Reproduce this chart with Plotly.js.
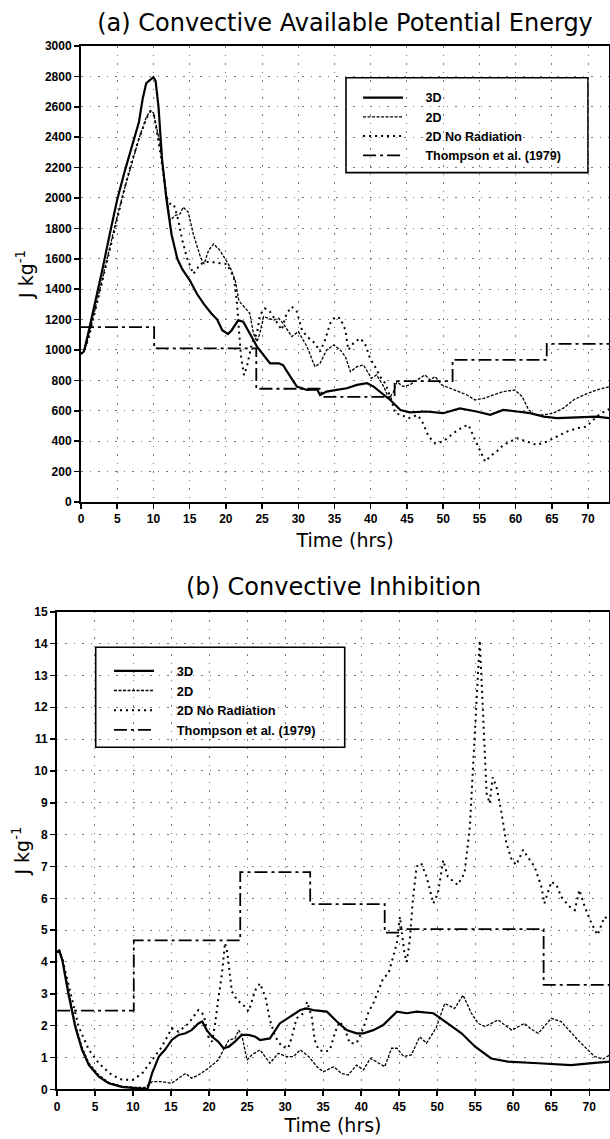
<!DOCTYPE html>
<html>
<head>
<meta charset="utf-8">
<script src="https://cdn.plot.ly/plotly-3.0.1.min.js"></script>
<style>html,body{margin:0;padding:0;background:#fff;}#chart{width:610px;height:1139px;}</style>
</head>
<body>
<div id="chart"></div>
<script>
// ---------- Data: (a) CAPE ----------
const seriesNames = ["3D", "2D", "2D No Radiation", "Thompson et al. (1979)"];
const capeT3D = [0,0.4,1,2,3,4,5,6,7,8,8.5,9,9.5,10,10.3,10.7,11.2,11.8,12.5,13.3,14,15,16,17,18,18.8,19.5,20.3,20.8,21.7,22.4,23.3,24.3,25.2,26.1,27.3,27.9,28.9,29.8,31.2,32.6,33,33.9,35.3,36.7,38.1,39.5,40.4,41.3,42.7,44.1,45.4,47.7,50,52.3,54.6,56.5,58.3,60.2,62,63.9,65.7,68.5,71.2,73];
const cape3D = [975,990,1110,1320,1540,1770,1990,2170,2340,2500,2650,2755,2775,2795,2770,2600,2250,1990,1760,1600,1530,1460,1370,1300,1240,1200,1130,1105,1130,1195,1186,1110,1022,967,912,912,900,825,759,737,741,704,726,737,748,770,781,759,726,671,605,590,595,584,615,595,573,606,595,584,562,551,557,562,551];
const capeT2D = [0,0.4,1,2,3,4,5,6,7,8,8.5,9,9.6,10,10.5,10.9,11.6,12.3,13,13.7,14.1,14.8,15.5,16.5,17,17.6,18.3,19.2,20.6,21.3,21.8,22.4,23.3,23.8,24.3,24.7,25.2,25.9,26.6,27.3,27.9,29.1,30,31.2,32.3,33,33.9,34.9,35.8,36.5,37.2,38.1,39,40.1,40.8,41.8,42.5,43.1,43.6,44.5,45.4,46.4,47.5,48.2,48.9,49.8,51,52.3,53.3,54.4,55.6,56.9,58.3,59.9,60.9,61.8,62.7,63.9,65.2,66.6,68,69.4,71.2,73];
const cape2D = [975,990,1080,1280,1480,1690,1880,2060,2230,2390,2460,2530,2575,2560,2450,2358,2094,1852,1885,1896,1940,1907,1764,1610,1566,1654,1698,1654,1544,1456,1324,1290,1241,1110,1055,1110,1219,1208,1197,1208,1175,1088,1121,1022,890,912,1000,1033,1000,956,857,890,901,814,836,759,682,720,790,760,770,803,836,803,825,770,748,726,704,671,682,704,726,737,693,606,573,573,584,617,671,704,737,759];
const capeTNoRad = [0,0.4,1,2,3,4,5,6,7,8,9,9.6,10.1,10.5,10.9,11.4,11.8,12.3,12.8,13.3,14,14.6,15.5,16.5,17.5,18.3,19.2,20.1,21.1,21.5,21.8,22.1,22.5,22.9,23.6,24.3,24.7,25.4,26.1,26.8,27.7,28.4,29.1,29.8,30.5,31.2,32.3,33,33.7,34.4,35.1,35.8,36.5,36.9,37.6,38.5,39.2,39.9,40.6,41.3,42,42.7,43.4,44.3,45.2,46.4,47,48,48.9,50,51.4,52.8,53.5,54.2,54.9,55.8,56.5,57.5,58.3,59.3,60.2,61.6,62.9,64.3,65.7,67.1,68.5,69.8,71.2,72.6,73];
const capeNoRad = [975,990,1070,1270,1470,1680,1880,2060,2240,2390,2520,2570,2540,2430,2314,2150,2006,1962,1960,1880,1720,1610,1500,1566,1580,1577,1570,1566,1478,1330,1132,956,835,890,1044,1110,1230,1274,1252,1197,1132,1241,1285,1252,1132,1088,1044,989,1066,1175,1219,1208,1132,1000,1044,1077,1044,945,890,825,781,693,583,572,550,572,540,430,386,397,452,496,507,430,354,265,300,337,375,400,419,397,375,397,430,463,485,496,562,606,612];
const capeTThomp = [0,10.1,24.2,33.2,43.3,51.3,64.3,73];
const capeThomp = [1150,1010,745,692,795,935,1040,1040];

// ---------- Data: (b) CIN ----------
const cinT3D = [0,0.3,0.7,1.5,2.4,3.3,4.2,5.5,6.8,8.5,10.3,11.6,11.9,12.5,13.4,14.2,15.1,16,16.9,17.7,18.6,19.1,19.7,20.4,21.2,21.9,22.6,23.4,24.3,25.2,26.1,26.7,28,29.3,30.7,32,32.8,33.7,35.5,36.8,38.1,39.4,40.3,41.6,42.9,44.7,46,47.3,49.5,50.8,51.7,53.2,55,57.1,59.3,63.3,67.6,71.1,72.7];
const cin3D = [4.3,4.35,4.06,3.0,1.97,1.24,0.76,0.4,0.19,0.08,0.04,0,0,0.5,1.03,1.24,1.55,1.71,1.76,1.86,2.07,2.13,1.86,1.65,1.5,1.29,1.34,1.5,1.71,1.71,1.65,1.55,1.6,2.07,2.28,2.49,2.54,2.49,2.44,2.13,1.86,1.76,1.76,1.86,2.02,2.44,2.39,2.44,2.39,2.18,2.02,1.76,1.34,0.97,0.87,0.82,0.76,0.84,0.87];
const cinT2D = [0,0.3,0.7,1.5,2.4,3.3,4.2,5.5,6.8,8.5,10.3,11.6,12.5,13.8,15.1,16,16.9,17.7,18.6,19.9,21.2,21.9,22.6,23.4,23.9,24.3,25,25.6,26.7,28,29.1,30.2,31.1,32,33.1,34.2,35,36.4,37.4,38.3,39.4,40.3,41.2,42,43.1,44,44.7,45.6,46.6,47.7,48.6,49.9,51,52.3,53.4,54.5,55.4,56.3,58,59.8,61.5,62.3,63.3,65,66.3,68.5,70.7,71.8,72.7];
const cin2D = [4.3,4.4,4.12,3.1,2.05,1.32,0.82,0.45,0.22,0.1,0.06,0.06,0.24,0.24,0.19,0.35,0.5,0.35,0.45,0.66,0.92,1.24,1.55,1.6,1.86,1.71,0.92,1.08,1.24,0.82,1.13,1.03,1.03,1.24,1.03,0.71,0.55,0.71,0.5,0.45,0.76,0.61,0.97,0.87,0.71,1.29,1.29,1.03,1.08,1.65,1.45,1.95,2.7,2.54,2.96,2.39,2.07,1.97,2.18,1.86,2.07,1.9,1.76,2.23,2.13,1.55,1.03,0.95,1.08];
const cinTNoRad = [0,0.3,0.7,2,2.85,4.2,5.5,7.2,8.5,9.9,11.2,12.5,13.8,15.1,16,17.3,18.6,19.3,19.9,20.4,20.8,21.2,21.7,22.1,22.4,23,23.7,24.5,25.2,26.1,26.7,27.4,28,28.7,29.6,30.4,30.9,31.5,32.4,32.9,33.5,33.9,34.4,35.3,35.9,36.6,37.2,37.9,38.5,39.4,40.3,41,41.6,42.3,42.9,43.6,44.2,44.7,45.1,45.7,46,46.4,46.8,47.3,47.9,48.6,49.5,50.1,50.8,51.4,52.7,53.6,54.3,54.7,55.2,55.6,56,56.5,56.9,57.3,57.8,58.4,59.1,59.8,60.4,61.3,61.9,62.8,63.7,64.1,65,65.7,66.3,67.4,68.1,68.7,69.4,70.3,71.1,72,72.7];
const cinNoRad = [4.3,4.35,4.1,2.8,1.97,1.24,0.82,0.45,0.31,0.29,0.5,0.92,1.34,1.92,1.81,2.07,2.49,2.34,1.65,1.5,2.07,2.8,3.64,4.6,4.3,3.07,2.8,2.65,2.45,3.12,3.33,2.91,2.18,1.65,1.34,1.29,1.65,2.23,2.39,2.75,2.28,1.55,1.24,1.18,1.24,1.81,2.13,1.86,1.45,1.45,1.92,2.44,2.7,3.12,3.49,3.64,4.17,4.59,5.42,4.27,4.0,4.69,5.95,7.0,7.1,6.68,5.84,6.16,7.2,6.68,6.42,6.79,8.25,10.1,12.5,14.1,12.0,9.3,8.98,9.8,9.5,8.77,7.73,7.2,7.05,7.52,7.3,7.0,6.37,5.84,6.52,6.42,6.05,5.74,5.63,6.26,5.74,5.21,4.85,5.42,5.32];
const cinTThomp = [0,10.1,24.1,33.3,43.1,45,64,72.6];
const cinThomp = [2.47,4.68,6.82,5.82,4.92,5.03,3.28,3.28];

const titleA = "(a) Convective Available Potential Energy";
const titleB = "(b) Convective Inhibition";
const xTitle = "Time (hrs)";
const yTitle = "J kg<sup>-1</sup>";

// ---------- Styles ----------
const styles = [
  {color: "#000", width: 2.2, dash: "solid"},
  {color: "#000", width: 1.3, dash: "3px,1.5px"},
  {color: "#000", width: 2, dash: "2px,4px"},
  {color: "#000", width: 1.8, dash: "13px,4px,3px,4px"}
];
const legendPad = "\u00a0\u00a0\u00a0\u00a0\u00a0";

function mk(x, y, i, xa, ya, lg, shape) {
  return {
    x: x, y: y, type: "scatter", mode: "lines", name: legendPad + seriesNames[i],
    xaxis: xa, yaxis: ya, legend: lg, hoverinfo: "skip",
    line: Object.assign({shape: shape || "linear"}, styles[i])
  };
}

const traces = [
  mk(capeT3D, cape3D, 0, "x", "y", "legend"),
  mk(capeT2D, cape2D, 1, "x", "y", "legend"),
  mk(capeTNoRad, capeNoRad, 2, "x", "y", "legend"),
  mk(capeTThomp, capeThomp, 3, "x", "y", "legend", "hv"),
  mk(cinT3D, cin3D, 0, "x2", "y2", "legend2"),
  mk(cinT2D, cin2D, 1, "x2", "y2", "legend2"),
  mk(cinTNoRad, cinNoRad, 2, "x2", "y2", "legend2"),
  mk(cinTThomp, cinThomp, 3, "x2", "y2", "legend2", "hv")
];

const tickFont = {family: "Liberation Sans, Arial, sans-serif", size: 12, color: "#000", weight: "bold"};
const titleFont = {family: "DejaVu Sans, sans-serif", size: 19, color: "#000"};
const gridStyle = {showgrid: true, gridcolor: "#777", gridwidth: 1, griddash: "1.5px,7px"};

function xax(domain, range, anchor, standoff) {
  return Object.assign({
    domain: domain, range: range, anchor: anchor, dtick: 5, tick0: 0,
    ticks: "outside", ticklen: 5, tickwidth: 1.5, tickcolor: "#000",
    showline: true, linecolor: "#000", linewidth: 2, mirror: true,
    zeroline: false, tickfont: tickFont,
    title: {text: xTitle, font: titleFont, standoff: standoff}
  }, gridStyle);
}
function yax(domain, range, dtick, anchor, standoff) {
  return Object.assign({
    domain: domain, range: range, anchor: anchor, dtick: dtick, tick0: 0,
    ticks: "outside", ticklen: 5, tickwidth: 1.5, tickcolor: "#000",
    showline: true, linecolor: "#000", linewidth: 2, mirror: true,
    zeroline: false, tickfont: tickFont,
    title: {text: yTitle, font: titleFont, standoff: standoff}
  }, gridStyle);
}

const legFont = {family: "Liberation Sans, Arial, sans-serif", size: 12.5, color: "#000", weight: "bold"};

const layout = {
  width: 610, height: 1139,
  margin: {l: 0, r: 0, t: 0, b: 0},
  paper_bgcolor: "#fff", plot_bgcolor: "rgba(0,0,0,0)",
  showlegend: true,
  title: {text: titleA, font: {family: "DejaVu Sans, sans-serif", size: 24, color: "#000"},
          x: 0.5656, xanchor: "center", y: 0.9798, yanchor: "middle"},
  xaxis: xax([0.1328, 0.9984], [0, 72.9], "y", 8),
  yaxis: yax([0.5593, 0.9596], [0, 3000], 200, "x", 6),
  xaxis2: xax([0.0934, 0.9984], [0, 72.6], "y2", 2),
  yaxis2: yax([0.0436, 0.4629], [0, 15], 1, "x2", 0),
  legend: {x: 0.587, y: 0.9272, xanchor: "left", yanchor: "top", bgcolor: "rgba(0,0,0,0)",
           borderwidth: 0, font: legFont, itemwidth: 40, tracegroupgap: 0},
  legend2: {x: 0.1787, y: 0.424, xanchor: "left", yanchor: "top", bgcolor: "rgba(0,0,0,0)",
            borderwidth: 0, font: Object.assign({}, legFont, {size: 12.8}), itemwidth: 40, tracegroupgap: 0},
  shapes: [
    {type: "rect", xref: "paper", yref: "paper", x0: 0.5672, x1: 0.9639, y0: 0.8484, y1: 0.9318,
     line: {color: "#000", width: 1.6}, fillcolor: "#fff", layer: "between"},
    {type: "rect", xref: "paper", yref: "paper", x0: 0.1569, x1: 0.5651, y0: 0.3439, y1: 0.4317,
     line: {color: "#000", width: 1.6}, fillcolor: "#fff", layer: "between"}
  ],
  annotations: [
    {text: titleB, xref: "paper", yref: "paper", x: 0.546, y: 0.4846, xanchor: "center", yanchor: "middle",
     showarrow: false, font: {family: "DejaVu Sans, sans-serif", size: 24, color: "#000"}}
  ]
};

Plotly.newPlot("chart", traces, layout, {displayModeBar: false, staticPlot: true});
</script>
</body>
</html>
